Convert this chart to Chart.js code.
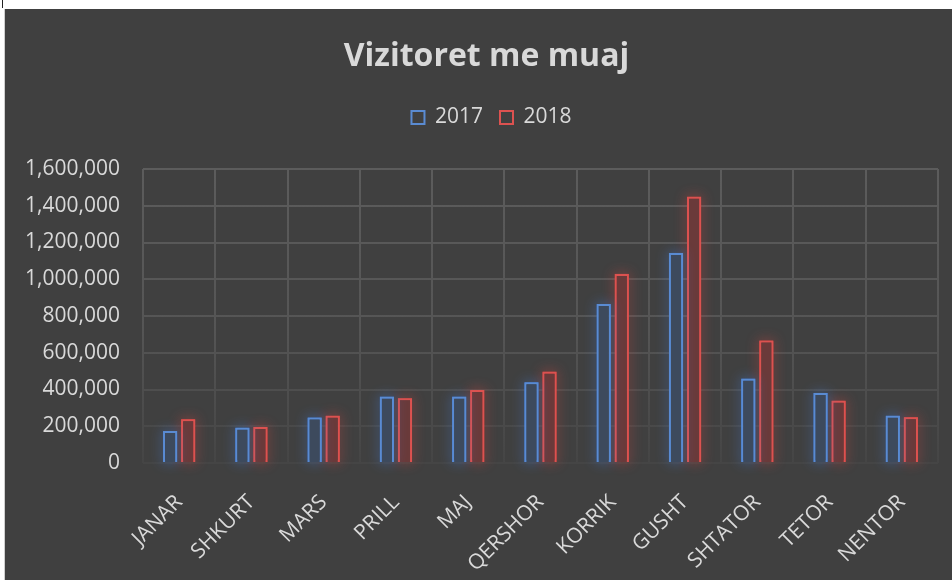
<!DOCTYPE html>
<html lang="sq">
<head>
<meta charset="UTF-8">
<title>Vizitoret me muaj</title>
<script src="https://cdn.jsdelivr.net/npm/chart.js"></script>
<style>
  body { margin: 0; background: #ffffff; }
  .mark { position: absolute; left: 2px; top: 0; width: 1px; height: 8px; background: #222; }
  .chart-box {
    position: absolute; left: 4px; top: 9px;
    width: 948px; height: 571px;
    background: #404040;
    border-left: 1px solid #cfcfcf;
    box-sizing: border-box;
  }
</style>
</head>
<body>
<div class="mark"></div>
<div class="chart-box">
  <canvas id="chart"></canvas>
</div>

<script>
// data
const months = ['JANAR', 'SHKURT', 'MARS', 'PRILL', 'MAJ', 'QERSHOR', 'KORRIK', 'GUSHT', 'SHTATOR', 'TETOR', 'NENTOR'];
const visitors2017 = [174000, 192000, 247000, 361000, 361000, 439000, 865000, 1143000, 459000, 381000, 257000];
const visitors2018 = [238000, 196000, 257000, 352000, 397000, 497000, 1029000, 1449000, 666000, 339000, 249000];
const yTicks = [0, 200000, 400000, 600000, 800000, 1000000, 1200000, 1400000, 1600000];

const textColor = '#d9d9d9';
const fontFamily = '"Open Sans", sans-serif';

// grid lines fade out toward the bottom
function gridColor(context) {
  const chart = context.chart;
  const area = chart.chartArea;
  if (!area) return '#555555';
  const g = chart.ctx.createLinearGradient(0, area.top, 0, area.bottom);
  g.addColorStop(0, '#5c5c5c');
  g.addColorStop(0.55, '#555555');
  g.addColorStop(1, '#454545');
  return g;
}

// soft glow around the bars (drawn under each bar, since the bar itself clips its border)
const glow = {
  id: 'glow',
  beforeDatasetDraw(chart, args) {
    const ctx = chart.ctx;
    const color = args.index === 0 ? 'rgba(70, 130, 225, 1)' : 'rgba(225, 70, 65, 1)';
    ctx.save();
    ctx.shadowColor = color;
    ctx.shadowBlur = 12;
    ctx.strokeStyle = color;
    ctx.lineWidth = 2;
    args.meta.data.forEach(bar => {
      const p = bar.getProps(['x', 'y', 'base', 'width'], true);
      ctx.strokeRect(p.x - p.width / 2 + 1, p.y + 1, p.width - 2, p.base - p.y - 2);
    });
    ctx.restore();
  }
};

// header is centred a bit right of the canvas middle in the original
const shiftHeader = {
  id: 'shiftHeader',
  afterLayout(chart) {
    chart.titleBlock.left += 15;
    chart.titleBlock.right += 15;
    chart.legend.left += 20;
    chart.legend.right += 20;
  }
};

new Chart(document.getElementById('chart'), {
  type: 'bar',
  data: {
    labels: months,
    datasets: [{
      label: '2017',
      data: visitors2017,
      backgroundColor: '#3d4a5d',
      borderColor: '#5a8bd2',
      borderWidth: 2,
      categoryPercentage: 0.5,
      barPercentage: 0.78
    }, {
      label: '2018',
      data: visitors2018,
      backgroundColor: '#6a3a3a',
      borderColor: '#dc5250',
      borderWidth: 2,
      categoryPercentage: 0.5,
      barPercentage: 0.78
    }]
  },
  options: {
    responsive: true,
    maintainAspectRatio: false,
    animation: false,
    layout: { padding: { left: 0, right: 14, top: 0, bottom: 0 } },
    plugins: {
      title: {
        display: true,
        text: 'Vizitoret me muaj',
        color: textColor,
        font: { family: fontFamily, size: 32, weight: 'bold' },
        padding: { top: 29, bottom: 13.5 }
      },
      // empty spacer between legend and plot
      subtitle: {
        display: true,
        text: '',
        weight: 500,
        font: { size: 1 },
        padding: { top: 0, bottom: 29.9 }
      },
      legend: {
        display: true,
        position: 'top',
        labels: {
          color: textColor,
          font: { family: fontFamily, size: 21 },
          boxWidth: 13,
          boxHeight: 13,
          padding: 17,
          generateLabels(chart) {
            return chart.data.datasets.map((ds, i) => ({
              text: ds.label,
              fillStyle: 'transparent',
              strokeStyle: ds.borderColor,
              lineWidth: 2,
              fontColor: textColor,
              datasetIndex: i
            }));
          }
        }
      },
      tooltip: { enabled: false }
    },
    scales: {
      x: {
        grid: { color: gridColor, lineWidth: 2, drawTicks: false, offset: true },
        border: { display: false },
        ticks: {
          color: textColor,
          font: { family: fontFamily, size: 21 },
          maxRotation: 45,
          minRotation: 45,
          padding: 27
        },
        afterFit(scale) { scale.height = 117; }
      },
      y: {
        min: 0,
        max: 1600000,
        afterBuildTicks(scale) { scale.ticks = yTicks.map(v => ({ value: v })); },
        grid: { color: gridColor, lineWidth: 2, drawTicks: false },
        border: { display: false },
        ticks: {
          color: textColor,
          font: { family: fontFamily, size: 21 },
          padding: 23,
          callback: v => v.toLocaleString('en-US')
        },
        afterFit(scale) { scale.width = 138; }
      }
    }
  },
  plugins: [glow, shiftHeader]
});
</script>
</body>
</html>
